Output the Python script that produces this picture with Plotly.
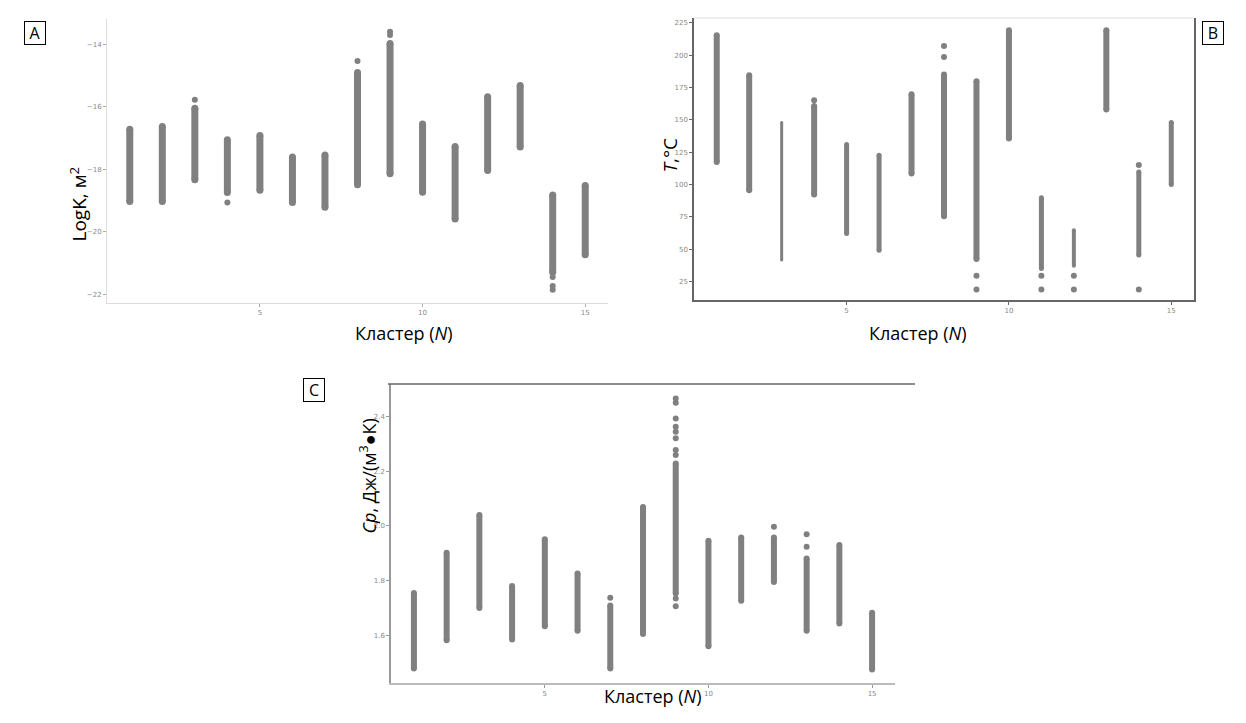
import plotly.graph_objects as go

clusters = list(range(1, 16))

# Panel A: LogK
A_low = [-19.03, -19.03, -18.33, -18.74, -18.67, -19.06, -19.21, -18.49, -18.14, -18.73, -19.59, -18.04, -17.29, -21.29, -20.73]
A_high = [-16.72, -16.63, -16.05, -17.06, -16.92, -17.61, -17.54, -14.91, -13.98, -16.55, -17.27, -15.68, -15.32, -18.82, -18.52]
A_out_x = [3, 4, 8, 9, 9, 14, 14, 14]
A_out_y = [-15.78, -19.06, -14.54, -13.61, -13.71, -21.44, -21.73, -21.85]

# Panel B: T, °C
B_low = [117.5, 95.6, 41.8, 92.4, 62.3, 49.4, 108.5, 75.6, 42.5, 135.5, 35.3, 37.3, 157.9, 45.6, 100.1]
B_high = [215.2, 184.4, 147.9, 160.7, 130.9, 122.7, 169.7, 184.9, 179.8, 219.1, 89.8, 64.8, 219.1, 109.8, 147.9]
B_out_x = [4, 8, 8, 9, 9, 11, 11, 12, 12, 14, 14]
B_out_y = [165.1, 207.0, 198.5, 29.6, 19.1, 29.6, 19.1, 29.6, 19.1, 115.2, 19.1]

# Panel C: Cp
C_low = [1.478, 1.582, 1.700, 1.584, 1.633, 1.616, 1.478, 1.604, 1.753, 1.560, 1.726, 1.795, 1.616, 1.643, 1.474]
C_high = [1.755, 1.902, 2.040, 1.780, 1.951, 1.826, 1.709, 2.070, 2.229, 1.946, 1.958, 1.958, 1.881, 1.930, 1.682]
C_out_x = [7, 9, 9, 9, 9, 9, 9, 9, 9, 9, 9, 12, 13, 13]
C_out_y = [1.737, 2.467, 2.451, 2.394, 2.363, 2.345, 2.321, 2.278, 2.260, 1.734, 1.706, 1.997, 1.970, 1.924]

A_ticks = [-22, -20, -18, -16, -14]
B_ticks = [25, 50, 75, 100, 125, 150, 175, 200, 225]
C_ticks = [1.6, 1.8, 2.0, 2.2, 2.4]
X_ticks = [5, 10, 15]

# style
GRAY = "#808080"
B_widths = [6, 6, 3, 6, 5, 5, 6, 6, 6, 6, 5, 4, 6, 5, 5]

W, H = 1246, 723
fig = go.Figure()


def add_strips(xa, ya, lows, highs, widths, ox, oy, osize):
    for c, lo, hi, w in zip(clusters, lows, highs, widths):
        fig.add_trace(go.Scatter(
            x=[c, c], y=[lo, hi], mode="lines+markers",
            line=dict(color=GRAY, width=w),
            marker=dict(color=GRAY, size=w, line=dict(width=0)),
            xaxis=xa, yaxis=ya, showlegend=False, hoverinfo="skip"))
    fig.add_trace(go.Scatter(
        x=ox, y=oy, mode="markers",
        marker=dict(color=GRAY, size=osize, line=dict(width=0)),
        xaxis=xa, yaxis=ya, showlegend=False, hoverinfo="skip"))


add_strips("x", "y", A_low, A_high, [7] * 15, A_out_x, A_out_y, 6)
add_strips("x2", "y2", B_low, B_high, B_widths, B_out_x, B_out_y, 6)
add_strips("x3", "y3", C_low, C_high, [6] * 15, C_out_x, C_out_y, 6)


def px_dom(a, b, total):
    return [a / total, b / total]


def py_dom(top, bottom):
    return [1 - bottom / H, 1 - top / H]


tickfont = dict(size=7, color="#888888", family="DejaVu Sans")
common_x = dict(tickvals=X_ticks, ticktext=[str(t) for t in X_ticks], range=[0.3, 15.7],
                showgrid=False, zeroline=False, ticks="outside", ticklen=3,
                tickfont=tickfont, fixedrange=True)
common_y = dict(showgrid=False, zeroline=False, ticks="outside", ticklen=3,
                tickfont=tickfont, fixedrange=True)

fig.update_layout(
    width=W, height=H, margin=dict(l=0, r=0, t=0, b=0),
    paper_bgcolor="white", plot_bgcolor="white",
    xaxis=dict(domain=px_dom(107, 608, W), anchor="y", showline=True, linecolor="#dddddd",
               linewidth=1, tickcolor="#aaaaaa", **common_x),
    yaxis=dict(domain=py_dom(19, 303), anchor="x", range=[-22.27, -13.2], tickvals=A_ticks,
               ticktext=["\u221222", "\u221220", "\u221218", "\u221216", "\u221214"],
               showline=True, linecolor="#dddddd", linewidth=1, tickcolor="#aaaaaa", **common_y),
    xaxis2=dict(domain=px_dom(694, 1194, W), anchor="y2", showline=True, linecolor="#666666",
                linewidth=1.5, tickcolor="#666666", **common_x),
    yaxis2=dict(domain=py_dom(18, 300), anchor="x2", range=[10.9, 228.6], tickvals=B_ticks,
                showline=True, mirror=True, linecolor="#666666", linewidth=1.5,
                tickcolor="#666666", **common_y),
    xaxis3=dict(domain=px_dom(391, 895, W), anchor="y3", showline=True, linecolor="#bbbbbb",
                linewidth=1.5, tickcolor="#999999", **common_x),
    yaxis3=dict(domain=py_dom(384, 683), anchor="x3", range=[1.425, 2.52], tickvals=C_ticks,
                ticktext=["1.6", "1.8", "2.0", "2.2", "2.4"],
                showline=True, linecolor="#999999", linewidth=1.5, tickcolor="#999999", **common_y),
)

# extra frame lines
fig.add_shape(type="line", xref="paper", yref="paper", x0=694 / W, x1=1194 / W,
              y0=1 - 18 / H, y1=1 - 18 / H, line=dict(color="#dddddd", width=1))
fig.add_shape(type="line", xref="paper", yref="paper", x0=388 / W, x1=915 / W,
              y0=1 - 384 / H, y1=1 - 384 / H, line=dict(color="#666666", width=1.5))

FONT = "Open Sans"
ann = []
# axis titles
ann.append(dict(x=353 / W, y=1 - 333 / H, text="Кластер (<i>N</i>)", showarrow=False,
                font=dict(size=18, color="black", family=FONT), xref="paper", yref="paper"))
ann.append(dict(x=968 / W, y=1 - 333 / H, text="Кластер (<i>N</i>)", showarrow=False,
                font=dict(size=18, color="black", family=FONT), xref="paper", yref="paper"))
ann.append(dict(x=652 / W, y=1 - 710 / H, text="Кластер (<i>N</i>)", showarrow=False,
                font=dict(size=18, color="black", family=FONT), xref="paper", yref="paper"))
ann.append(dict(x=63 / W, y=1 - 165 / H, text="LogK, м<sup>2</sup>", showarrow=False, textangle=-90,
                font=dict(size=19, color="black", family=FONT), xref="paper", yref="paper"))
ann.append(dict(x=669 / W, y=1 - 135 / H, text="<i>T</i>,°C", showarrow=False, textangle=-90,
                font=dict(size=19, color="black", family=FONT), xref="paper", yref="paper"))
ann.append(dict(x=353 / W, y=1 - 536 / H, text="<i>Cp</i>, Дж/(м<sup>3</sup>\u25cfК)", showarrow=False,
                textangle=-90, font=dict(size=18, color="black", family=FONT),
                xref="paper", yref="paper"))
# panel letters
for lbl, x, y in [("A", 24, 21), ("B", 1224, 21), ("C", 303, 390)]:
    ann.append(dict(x=x / W, y=1 - y / H, text=lbl, showarrow=False, xref="paper", yref="paper",
                    font=dict(size=16, color="black", family=FONT), bordercolor="black",
                    borderwidth=1, borderpad=1, width=18, height=20))

fig.update_layout(annotations=ann)
fig.write_html("out.html")
